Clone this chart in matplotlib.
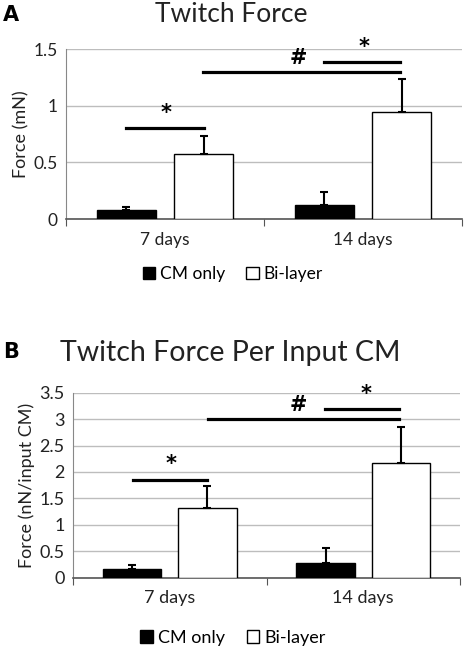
import matplotlib
matplotlib.use("Agg")
import matplotlib.pyplot as plt
from matplotlib.patches import Patch
import numpy as np

plt.rcParams['font.family'] = ['Lato', 'DejaVu Sans']

categories = ["7 days", "14 days"]
series = ["CM only", "Bi-layer"]

# Panel A: Twitch Force (mN)
a_cm = [0.077, 0.124]
a_cm_err = [0.026, 0.112]
a_bi = [0.571, 0.947]
a_bi_err = [0.162, 0.289]
a_yticks = [0, 0.5, 1, 1.5]
a_yticklabels = ["0", "0.5", "1", "1.5"]

# Panel B: Twitch Force per input CM (nN/input CM)
b_cm = [0.17, 0.284]
b_cm_err = [0.064, 0.278]
b_bi = [1.324, 2.164]
b_bi_err = [0.405, 0.686]
b_yticks = [0, 0.5, 1, 1.5, 2, 2.5, 3, 3.5]
b_yticklabels = ["0", "0.5", "1", "1.5", "2", "2.5", "3", "3.5"]

# significance annotations: (x0, x1, y, text_x, text_y, text)
a_sig = [(-0.195, 0.195, 0.80, 0.005, 0.935, "*"),
         (0.19, 1.185, 1.30, 0.675, 1.42, "#"),
         (0.805, 1.185, 1.386, 1.007, 1.52, "*")]
b_sig = [(-0.19, 0.19, 1.854, 0.005, 2.15, "*"),
         (0.199, 1.186, 3.01, 0.665, 3.27, "#"),
         (0.802, 1.186, 3.20, 1.017, 3.47, "*")]

W, H = 466, 654
fig = plt.figure(figsize=(W / 100, H / 100), dpi=100)

def panel(rect, cm, cm_err, bi, bi_err, yticks, yticklabels, ylim, ylabel,
          title, letter, sig, tick_fs, label_fs, title_fs, title_xy, letter_xy, legend_y):
    ax = fig.add_axes(rect)
    x = np.arange(len(categories))
    off = 0.195
    bw = 0.30
    ax.bar(x - off, cm, bw, color="black", edgecolor="black", linewidth=1, zorder=3)
    ax.bar(x + off, bi, bw, color="white", edgecolor="black", linewidth=1, zorder=3)
    ax.errorbar(x - off, cm, yerr=[np.zeros(len(cm)), cm_err], fmt="none",
                ecolor="black", elinewidth=1.5, capsize=3, capthick=1.5, zorder=4)
    ax.errorbar(x + off, bi, yerr=[np.zeros(len(bi)), bi_err], fmt="none",
                ecolor="black", elinewidth=1.5, capsize=3, capthick=1.5, zorder=4)
    ax.set_xlim(-0.5, 1.5)
    ax.set_ylim(*ylim)
    ax.set_yticks(yticks)
    ax.set_yticklabels(yticklabels, fontsize=tick_fs, color="#222222")
    ax.tick_params(axis="y", length=0, pad=6)
    ax.yaxis.grid(True, color="#bdbdbd", linewidth=1)
    ax.set_axisbelow(True)
    ax.set_xticks([-0.5, 0.5, 1.5])
    ax.set_xticklabels([])
    ax.set_xticks(x, minor=True)
    ax.set_xticklabels(categories, minor=True, fontsize=tick_fs, color="#222222")
    ax.tick_params(axis="x", which="major", direction="out", length=5, color="#555555")
    ax.tick_params(axis="x", which="minor", length=0, pad=9)
    for s in ["top", "right"]:
        ax.spines[s].set_visible(False)
    ax.spines["left"].set_color("#888888")
    ax.spines["bottom"].set_color("#555555")
    ax.spines["bottom"].set_linewidth(1.2)
    ax.set_ylabel(ylabel, fontsize=label_fs, color="#222222", labelpad=3)
    for x0, x1, y, tx, ty, t in sig:
        ax.plot([x0, x1], [y, y], color="black", linewidth=2.3, clip_on=False, zorder=5)
        ax.text(tx, ty, t, ha="center", va="center", fontsize=15, fontweight="bold",
                clip_on=False, family="DejaVu Sans")
    fig.text(title_xy[0] / W, 1 - title_xy[1] / H, title, ha="center", va="center",
             fontsize=title_fs, color="#222222")
    fig.text(letter_xy[0] / W, 1 - letter_xy[1] / H, letter, ha="left", va="center",
             fontsize=15, fontweight="bold", family="DejaVu Sans")
    handles = [Patch(facecolor="black", edgecolor="black", label=series[0]),
               Patch(facecolor="white", edgecolor="black", label=series[1])]
    fig.legend(handles=handles, loc="center", bbox_to_anchor=(0.5, 1 - legend_y / H),
               ncol=2, frameon=False, fontsize=tick_fs, handlelength=0.7,
               handleheight=0.7, handletextpad=0.3, columnspacing=1.2)
    return ax

panel([66 / W, 1 - 219 / H, (462 - 66) / W, (219 - 49) / H],
      a_cm, a_cm_err, a_bi, a_bi_err, a_yticks, a_yticklabels, (0, 1.5),
      "Force (mN)", "Twitch Force", "A", a_sig, 12.5, 13, 19,
      (231, 14), (3, 15), 274)
panel([73 / W, 1 - 577.7 / H, (460 - 73) / W, (577.7 - 392.7) / H],
      b_cm, b_cm_err, b_bi, b_bi_err, b_yticks, b_yticklabels, (0, 3.5),
      "Force (nN/input CM)", "Twitch Force Per Input CM", "B", b_sig, 13, 13, 20.5,
      (230, 353), (3, 352), 638)

fig.savefig("out.png", dpi=100)
